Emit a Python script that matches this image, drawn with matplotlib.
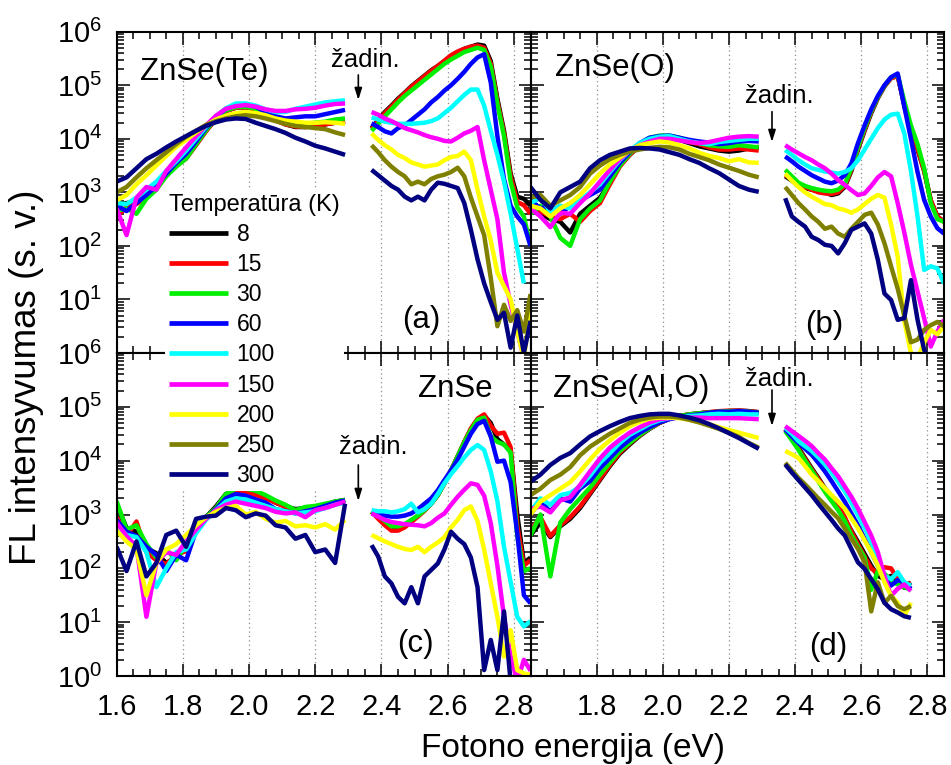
import numpy as np
import matplotlib
matplotlib.use("Agg")
import matplotlib.pyplot as plt
from matplotlib.ticker import MultipleLocator, LogLocator, NullFormatter, FuncFormatter

plt.rcParams['font.family'] = ['Liberation Sans', 'DejaVu Sans']
plt.rcParams['mathtext.fontset'] = 'custom'
plt.rcParams['mathtext.rm'] = 'Liberation Sans'

nan = np.nan

# ---- data -------------------------------------------------------------
temperatures = [8, 15, 30, 60, 100, 150, 200, 250, 300]
colors = ['#000000', '#ff0000', '#00ee00', '#0000ff', '#00ffff',
          '#ff00ff', '#ffff00', '#808000', '#000080']

excitation_ev = 2.33

# photon energy grids below and above the excitation line (eV)
energy_lo = [1.60, 1.63, 1.66, 1.69, 1.72, 1.75, 1.78, 1.81, 1.84, 1.87, 1.90, 1.93,
             1.96, 1.99, 2.02, 2.05, 2.08, 2.11, 2.14, 2.17, 2.20, 2.23, 2.26, 2.29]
energy_hi = [2.37, 2.39, 2.41, 2.43, 2.45, 2.47, 2.49, 2.51, 2.53, 2.55, 2.57, 2.59,
             2.61, 2.63, 2.65, 2.67, 2.69, 2.71, 2.73, 2.75, 2.77, 2.79, 2.81, 2.83, 2.85]

# log10 of PL intensity, one row per temperature (8 ... 300 K)
znse_te_lo = [
    [2.75, 2.80, 2.82, 2.95, 3.15, 3.36, 3.52, 3.65, 3.90, 4.15, 4.38, 4.52, 4.58, 4.59, 4.55, 4.45, 4.35, 4.27, 4.22, 4.22, 4.24, 4.27, 4.30, 4.32],
    [2.55, 2.72, 2.78, 2.92, 3.10, 3.33, 3.50, 3.63, 3.88, 4.14, 4.37, 4.52, 4.58, 4.59, 4.55, 4.44, 4.34, 4.27, 4.23, 4.22, 4.24, 4.27, 4.30, 4.32],
    [2.65, 2.70, 2.60, 2.88, 3.05, 3.30, 3.48, 3.63, 3.90, 4.16, 4.38, 4.53, 4.59, 4.60, 4.56, 4.46, 4.36, 4.30, 4.27, 4.28, 4.30, 4.32, 4.36, 4.38],
    [2.75, 2.65, 2.80, 2.95, 3.12, 3.35, 3.55, 3.72, 3.95, 4.20, 4.40, 4.56, 4.63, 4.64, 4.60, 4.50, 4.42, 4.38, 4.40, 4.42, 4.42, 4.46, 4.50, 4.54],
    [2.80, 2.78, 2.90, 3.05, 3.20, 3.40, 3.58, 3.78, 4.00, 4.22, 4.42, 4.57, 4.66, 4.66, 4.62, 4.55, 4.50, 4.50, 4.56, 4.60, 4.64, 4.68, 4.70, 4.72],
    [2.70, 2.20, 2.90, 3.10, 3.05, 3.40, 3.62, 3.84, 4.05, 4.25, 4.43, 4.56, 4.61, 4.63, 4.60, 4.55, 4.52, 4.52, 4.55, 4.56, 4.58, 4.62, 4.65, 4.66],
    [2.85, 2.95, 3.15, 3.32, 3.50, 3.68, 3.85, 3.98, 4.12, 4.25, 4.36, 4.43, 4.48, 4.50, 4.48, 4.44, 4.38, 4.34, 4.32, 4.30, 4.30, 4.31, 4.30, 4.28],
    [3.00, 3.10, 3.28, 3.45, 3.60, 3.75, 3.90, 4.04, 4.15, 4.26, 4.33, 4.38, 4.42, 4.44, 4.42, 4.38, 4.33, 4.28, 4.24, 4.22, 4.20, 4.18, 4.12, 4.07],
    [3.20, 3.28, 3.45, 3.62, 3.72, 3.84, 3.95, 4.05, 4.15, 4.24, 4.31, 4.36, 4.38, 4.37, 4.30, 4.24, 4.18, 4.11, 4.02, 3.95, 3.87, 3.82, 3.76, 3.70],
]
znse_te_hi = [
    [4.20, 4.35, 4.50, 4.62, 4.75, 4.86, 4.98, 5.08, 5.18, 5.28, 5.36, 5.45, 5.55, 5.62, 5.68, 5.72, 5.76, 5.74, 5.45, 4.75, 4.15, 3.35, 2.92, 2.88, 2.75],
    [4.18, 4.33, 4.48, 4.60, 4.73, 4.85, 4.97, 5.07, 5.17, 5.27, 5.36, 5.46, 5.56, 5.63, 5.68, 5.72, 5.74, 5.70, 5.40, 4.70, 4.10, 3.30, 2.82, 2.76, 2.60],
    [4.15, 4.28, 4.42, 4.55, 4.68, 4.80, 4.90, 5.00, 5.10, 5.20, 5.30, 5.40, 5.48, 5.55, 5.62, 5.66, 5.70, 5.66, 5.35, 4.65, 4.05, 3.20, 2.72, 2.55, 2.00],
    [4.29, 4.22, 4.14, 4.10, 4.20, 4.25, 4.35, 4.45, 4.55, 4.68, 4.78, 4.90, 5.00, 5.12, 5.25, 5.40, 5.52, 5.58, 5.05, 4.05, 3.25, 2.75, 2.55, 2.40, 2.00],
    [4.40, 4.36, 4.32, 4.30, 4.28, 4.28, 4.28, 4.29, 4.30, 4.33, 4.38, 4.48, 4.58, 4.70, 4.82, 4.92, 4.92, 4.62, 4.15, 3.70, 3.20, 2.60, 1.95, 1.30, nan],
    [4.50, 4.45, 4.38, 4.33, 4.27, 4.20, 4.16, 4.12, 4.07, 4.03, 4.00, 3.96, 3.95, 4.02, 4.10, 4.15, 4.22, 3.60, 3.05, 2.50, 1.50, 0.90, 0.40, -0.10, -0.50],
    [4.10, 3.98, 3.88, 3.80, 3.70, 3.64, 3.56, 3.52, 3.48, 3.50, 3.52, 3.60, 3.66, 3.68, 3.76, 3.60, 3.05, 2.55, 2.10, 1.50, 1.25, 1.00, 0.40, -0.10, 0.80],
    [3.88, 3.75, 3.60, 3.48, 3.38, 3.30, 3.15, 3.20, 3.15, 3.25, 3.30, 3.33, 3.38, 3.46, 3.30, 2.90, 2.55, 2.20, 1.40, 0.50, 0.90, 0.60, 0.80, 0.40, 1.10],
    [3.42, 3.32, 3.22, 3.12, 3.05, 2.92, 2.85, 2.92, 2.85, 3.05, 3.18, 3.16, 3.12, 3.08, 2.80, 2.30, 1.75, 1.30, 0.95, 0.62, 0.75, 0.10, 0.70, 0.00, 0.60],
]

znse_o_lo = [
    [2.80, 2.60, 2.50, 2.45, 2.25, 2.60, 2.75, 2.90, 3.18, 3.50, 3.70, 3.87, 3.98, 4.02, 4.02, 3.98, 3.92, 3.86, 3.82, 3.78, 3.76, 3.78, 3.82, 3.85],
    [2.70, 2.65, 2.55, 2.50, 2.60, 2.45, 2.65, 2.80, 3.15, 3.48, 3.70, 3.88, 4.00, 4.04, 4.04, 4.00, 3.94, 3.90, 3.84, 3.80, 3.80, 3.82, 3.80, 3.78],
    [2.60, 2.75, 2.55, 2.15, 2.00, 2.50, 2.70, 2.85, 3.20, 3.50, 3.72, 3.90, 4.02, 4.06, 4.06, 4.02, 3.96, 3.92, 3.88, 3.86, 3.85, 3.88, 3.86, 3.84],
    [2.85, 2.70, 2.75, 2.60, 2.75, 2.85, 2.95, 3.05, 3.30, 3.55, 3.75, 3.92, 4.02, 4.05, 4.06, 4.02, 3.98, 3.95, 3.93, 3.90, 3.92, 3.95, 3.96, 3.95],
    [2.80, 2.90, 2.65, 2.75, 2.70, 2.85, 3.00, 3.15, 3.38, 3.60, 3.78, 3.92, 4.00, 4.04, 4.05, 4.00, 3.95, 3.92, 3.90, 3.94, 3.96, 3.98, 4.00, 4.00],
    [2.70, 2.55, 2.35, 2.62, 2.60, 2.80, 2.98, 3.20, 3.42, 3.62, 3.78, 3.88, 3.95, 4.00, 4.00, 3.97, 3.94, 3.92, 3.94, 3.98, 4.02, 4.04, 4.05, 4.04],
    [2.75, 2.70, 2.55, 2.70, 2.80, 2.95, 3.15, 3.35, 3.52, 3.65, 3.78, 3.88, 3.92, 3.95, 3.93, 3.88, 3.82, 3.74, 3.68, 3.64, 3.58, 3.62, 3.56, 3.55],
    [2.90, 2.95, 2.75, 2.85, 2.95, 3.10, 3.35, 3.50, 3.62, 3.70, 3.76, 3.80, 3.83, 3.85, 3.84, 3.80, 3.72, 3.66, 3.60, 3.52, 3.46, 3.40, 3.33, 3.28],
    [3.10, 2.86, 2.70, 3.00, 3.10, 3.20, 3.45, 3.60, 3.70, 3.76, 3.82, 3.83, 3.82, 3.80, 3.75, 3.70, 3.62, 3.55, 3.45, 3.36, 3.24, 3.12, 3.05, 3.01],
]
znse_o_hi = [
    [3.30, 3.22, 3.12, 3.08, 3.05, 3.02, 3.00, 2.95, 2.98, 3.10, 3.40, 3.80, 4.15, 4.48, 4.76, 4.98, 5.14, 5.18, 4.62, 4.15, 3.80, 3.40, 2.85, 2.55, 2.45],
    [3.32, 3.25, 3.15, 3.10, 3.05, 3.00, 2.98, 2.97, 3.00, 3.12, 3.42, 3.82, 4.17, 4.50, 4.77, 4.98, 5.13, 5.17, 4.65, 4.18, 3.82, 3.40, 2.85, 2.55, 2.45],
    [3.42, 3.30, 3.18, 3.12, 3.08, 3.05, 3.03, 3.02, 3.05, 3.15, 3.45, 3.85, 4.20, 4.52, 4.78, 4.99, 5.15, 5.20, 4.70, 4.25, 3.90, 3.45, 2.80, 2.50, 2.45],
    [3.67, 3.58, 3.48, 3.40, 3.32, 3.26, 3.20, 3.17, 3.22, 3.32, 3.54, 3.92, 4.25, 4.55, 4.80, 5.00, 5.15, 5.22, 4.60, 4.00, 3.38, 2.86, 2.55, 2.33, 2.23],
    [3.79, 3.70, 3.60, 3.52, 3.45, 3.42, 3.39, 3.37, 3.35, 3.38, 3.45, 3.60, 3.80, 4.00, 4.20, 4.36, 4.45, 4.47, 4.10, 3.40, 2.55, 1.55, 1.62, 1.58, 1.30],
    [3.88, 3.80, 3.73, 3.66, 3.60, 3.52, 3.45, 3.35, 3.23, 3.14, 3.04, 2.95, 2.98, 3.12, 3.28, 3.38, 3.30, 2.80, 2.25, 1.65, 1.15, 0.65, 0.12, 0.40, 0.62],
    [3.35, 3.22, 3.10, 3.00, 2.92, 2.85, 2.78, 2.76, 2.70, 2.67, 2.62, 2.68, 2.78, 2.88, 2.95, 2.90, 2.40, 1.80, 0.60, 0.00, -0.10, 0.20, 0.43, 0.35, 0.50],
    [3.10, 2.95, 2.80, 2.68, 2.55, 2.45, 2.32, 2.36, 2.23, 2.17, 2.32, 2.45, 2.58, 2.62, 2.40, 2.05, 1.62, 1.20, 0.70, 0.20, 0.25, 0.43, 0.52, 0.58, 0.50],
    [2.89, 2.55, 2.45, 2.36, 2.17, 2.11, 2.02, 2.00, 1.86, 2.05, 2.30, 2.36, 2.42, 2.23, 1.74, 1.11, 0.99, 0.62, 0.65, 1.36, 0.62, 0.06, -0.20, -0.50, -0.50],
]

# no 250 K spectrum was recorded for undoped ZnSe
znse_lo = [
    [3.20, 2.75, 2.68, 2.38, 2.28, 2.10, 2.20, 2.40, 2.75, 2.95, 3.15, 3.38, 3.46, 3.44, 3.40, 3.32, 3.22, 3.15, 3.10, 3.12, 3.14, 3.18, 3.24, 3.27],
    [2.95, 2.60, 2.87, 2.30, 2.15, 2.08, 2.25, 2.32, 2.72, 2.93, 3.12, 3.36, 3.44, 3.42, 3.36, 3.30, 3.22, 3.14, 3.06, 3.08, 3.12, 3.16, 3.22, 3.26],
    [3.25, 2.72, 2.80, 2.45, 2.20, 2.35, 2.15, 2.45, 2.78, 2.95, 3.12, 3.38, 3.48, 3.48, 3.44, 3.36, 3.26, 3.18, 3.08, 3.14, 3.16, 3.20, 3.24, 3.27],
    [2.90, 2.68, 2.60, 2.40, 2.25, 1.95, 2.25, 2.15, 2.70, 2.92, 3.10, 3.30, 3.38, 3.35, 3.28, 3.22, 3.10, 3.06, 3.02, 3.06, 3.10, 3.16, 3.22, 3.26],
    [2.80, 2.62, 2.58, 2.30, 1.65, 2.00, 2.30, 2.35, 2.65, 2.90, 3.08, 3.24, 3.30, 3.28, 3.22, 3.16, 3.10, 3.06, 3.02, 3.04, 3.06, 3.12, 3.18, 3.22],
    [2.85, 2.60, 2.40, 1.10, 2.10, 2.30, 2.25, 2.50, 2.72, 2.92, 3.08, 3.18, 3.24, 3.20, 3.16, 3.12, 3.05, 3.02, 3.04, 2.95, 3.08, 3.12, 3.18, 3.24],
    [2.70, 2.50, 2.35, 1.50, 2.10, 2.35, 2.45, 2.62, 2.80, 2.95, 3.05, 3.12, 3.16, 3.00, 3.05, 2.92, 2.85, 2.88, 2.78, 2.80, 2.76, 2.82, 2.72, 2.90],
    None,
    [2.40, 1.95, 2.50, 1.85, 2.10, 2.62, 2.70, 2.40, 2.92, 2.96, 2.98, 3.12, 3.08, 2.95, 3.02, 2.98, 2.80, 2.76, 2.55, 2.62, 2.30, 2.35, 2.10, 3.20],
]
znse_hi = [
    [3.05, 2.95, 2.84, 2.72, 2.72, 2.78, 2.88, 2.98, 3.08, 3.20, 3.36, 3.58, 3.82, 4.08, 4.34, 4.58, 4.76, 4.84, 4.70, 4.40, 4.30, 4.20, 3.00, 2.10, 2.20],
    [3.05, 2.92, 2.80, 2.70, 2.70, 2.76, 2.86, 2.96, 3.07, 3.20, 3.36, 3.58, 3.82, 4.08, 4.35, 4.60, 4.78, 4.86, 4.65, 4.50, 4.52, 4.25, 2.80, 2.05, 2.15],
    [3.05, 2.98, 2.88, 2.78, 2.78, 2.82, 2.90, 2.98, 3.08, 3.20, 3.36, 3.58, 3.82, 4.08, 4.34, 4.57, 4.76, 4.80, 4.45, 4.35, 4.30, 4.15, 2.60, 1.95, 2.00],
    [3.02, 3.00, 2.98, 2.96, 2.96, 2.98, 3.02, 3.10, 3.20, 3.30, 3.45, 3.64, 3.82, 4.02, 4.26, 4.50, 4.68, 4.74, 4.45, 3.98, 4.00, 3.60, 2.65, 1.50, 1.35],
    [3.08, 3.06, 3.06, 3.04, 3.06, 3.10, 3.20, 3.04, 3.10, 3.20, 3.38, 3.58, 3.75, 3.90, 4.06, 4.20, 4.29, 4.20, 3.80, 3.25, 2.40, 1.75, 1.10, 0.92, 1.02],
    [3.02, 2.96, 2.90, 2.86, 2.84, 2.82, 2.81, 2.80, 2.78, 2.84, 2.94, 3.02, 3.18, 3.33, 3.46, 3.58, 3.55, 3.35, 2.84, 2.05, 1.10, 0.36, -0.10, 0.30, 0.10],
    [2.62, 2.56, 2.50, 2.45, 2.40, 2.36, 2.34, 2.40, 2.30, 2.40, 2.48, 2.58, 2.76, 2.90, 3.08, 3.15, 2.88, 2.35, 1.72, 1.10, 0.36, 0.85, 0.11, 0.05, 0.02],
    None,
    [2.43, 2.22, 1.85, 1.72, 1.47, 1.35, 1.65, 1.35, 1.85, 1.97, 2.09, 2.35, 2.68, 2.55, 2.45, 2.20, 1.65, 0.11, 0.67, 0.11, 1.20, -0.10, -0.50, -0.50, -0.50],
]

znse_alo_lo = [
    [2.61, 2.85, 2.58, 2.78, 2.92, 3.12, 3.38, 3.64, 3.90, 4.13, 4.30, 4.46, 4.59, 4.70, 4.78, 4.83, 4.86, 4.88, 4.90, 4.91, 4.92, 4.93, 4.92, 4.90],
    [2.70, 2.95, 2.60, 2.80, 2.95, 3.15, 3.40, 3.66, 3.92, 4.15, 4.32, 4.47, 4.60, 4.70, 4.78, 4.83, 4.86, 4.88, 4.90, 4.92, 4.93, 4.93, 4.92, 4.90],
    [2.61, 3.00, 1.85, 2.85, 3.10, 3.30, 3.50, 3.74, 3.96, 4.18, 4.33, 4.48, 4.60, 4.71, 4.79, 4.83, 4.86, 4.88, 4.89, 4.91, 4.92, 4.92, 4.91, 4.89],
    [3.00, 3.25, 3.05, 3.30, 3.24, 3.48, 3.62, 3.86, 4.05, 4.24, 4.39, 4.52, 4.62, 4.71, 4.77, 4.81, 4.84, 4.86, 4.89, 4.91, 4.91, 4.92, 4.91, 4.89],
    [3.05, 3.30, 3.18, 3.36, 3.40, 3.52, 3.72, 3.96, 4.14, 4.33, 4.48, 4.58, 4.68, 4.75, 4.79, 4.81, 4.83, 4.84, 4.86, 4.87, 4.86, 4.87, 4.86, 4.86],
    [3.10, 3.15, 3.04, 3.26, 3.32, 3.55, 3.80, 4.04, 4.24, 4.39, 4.52, 4.62, 4.71, 4.77, 4.79, 4.80, 4.80, 4.80, 4.79, 4.79, 4.79, 4.79, 4.78, 4.77],
    [3.00, 3.24, 3.36, 3.48, 3.60, 3.80, 4.02, 4.22, 4.38, 4.52, 4.64, 4.72, 4.78, 4.80, 4.80, 4.79, 4.76, 4.72, 4.68, 4.62, 4.57, 4.52, 4.47, 4.42],
    [3.36, 3.48, 3.64, 3.74, 3.88, 4.10, 4.26, 4.38, 4.50, 4.60, 4.70, 4.76, 4.80, 4.82, 4.82, 4.80, 4.76, 4.71, 4.65, 4.59, 4.52, 4.44, 4.33, 4.24],
    [3.61, 3.74, 3.92, 4.05, 4.14, 4.30, 4.45, 4.55, 4.64, 4.72, 4.79, 4.83, 4.86, 4.87, 4.87, 4.84, 4.80, 4.75, 4.68, 4.60, 4.51, 4.42, 4.32, 4.22],
]
# measured up to 2.75 eV only
znse_alo_hi = [
    [4.58, 4.42, 4.24, 4.05, 3.86, 3.68, 3.49, 3.33, 3.18, 2.93, 2.70, 2.49, 2.27, 2.05, 1.86, 1.80, 1.86, 1.74, 1.64, 1.74],
    [4.58, 4.40, 4.22, 4.03, 3.84, 3.66, 3.47, 3.30, 3.15, 2.95, 2.68, 2.45, 2.22, 2.00, 1.90, 2.02, 2.00, 1.80, 1.70, 1.72],
    [4.55, 4.38, 4.20, 4.00, 3.82, 3.62, 3.42, 3.25, 3.08, 2.88, 2.62, 2.40, 2.20, 1.60, 1.95, 1.90, 1.78, 1.70, 1.65, 1.60],
    [4.58, 4.45, 4.33, 4.22, 4.11, 3.96, 3.80, 3.62, 3.43, 3.24, 3.02, 2.80, 2.55, 2.30, 2.05, 1.80, 1.68, 1.78, 1.74, 1.62],
    [4.61, 4.50, 4.36, 4.27, 4.18, 4.06, 3.93, 3.78, 3.61, 3.43, 3.22, 2.99, 2.75, 2.49, 2.18, 1.86, 1.80, 1.93, 1.74, 1.68],
    [4.64, 4.55, 4.46, 4.37, 4.27, 4.14, 4.02, 3.86, 3.71, 3.52, 3.33, 3.11, 2.86, 2.61, 2.30, 1.86, 1.49, 1.62, 1.70, 1.58],
    [4.18, 4.12, 4.05, 3.90, 3.74, 3.62, 3.49, 3.36, 3.24, 3.11, 2.93, 2.74, 2.52, 2.30, 2.05, 1.74, 1.49, 1.36, 1.11, 1.36],
    [3.96, 3.82, 3.68, 3.56, 3.43, 3.30, 3.18, 3.05, 2.93, 2.74, 2.55, 2.36, 2.11, 1.20, 1.74, 1.36, 1.49, 1.30, 1.24, 1.30],
    [3.93, 3.78, 3.64, 3.50, 3.36, 3.20, 3.05, 2.90, 2.74, 2.61, 2.36, 2.11, 1.99, 1.80, 1.61, 1.36, 1.24, 1.18, 1.11, 1.08],
]

# ---- figure layout (pixel geometry of the 2x2 grid) ---------------------
W, H = 951, 765
fig = plt.figure(figsize=(W / 100, H / 100), dpi=100)

xL, xM, xR = 116.6, 530.5, 944.0
yT, yM, yB = 31.7, 353.0, 676.0


def add_axes_px(x0, y0, x1, y1):
    return fig.add_axes([x0 / W, 1 - y1 / H, (x1 - x0) / W, (y1 - y0) / H])


ax_a = add_axes_px(xL, yT, xM, yM)
ax_b = add_axes_px(xM, yT, xR, yM)
ax_c = add_axes_px(xL, yM, xM, yB)
ax_d = add_axes_px(xM, yM, xR, yB)

LW = 3.2
TICK_FS = 21


def sci_label(v, pos):
    e = int(round(np.log10(v)))
    return r'$\mathdefault{10^{%d}}$' % e


def style_axis(ax, show_x, show_y, hide_first_y=False, hide_first_x=False):
    ax.set_xlim(1.6, 2.85)
    ax.set_yscale('log')
    ax.set_ylim(1, 1e6)
    ax.xaxis.set_major_locator(MultipleLocator(0.2))
    ax.xaxis.set_minor_locator(MultipleLocator(0.05))
    ax.yaxis.set_major_locator(LogLocator(base=10, numticks=10))
    ax.yaxis.set_minor_locator(LogLocator(base=10, subs=np.arange(2, 10), numticks=20))
    ax.yaxis.set_minor_formatter(NullFormatter())

    def yfmt(v, pos):
        if hide_first_y and abs(v - 1) < 1e-9:
            return ''
        return sci_label(v, pos)

    def xfmt(v, pos):
        if hide_first_x and abs(v - 1.6) < 1e-6:
            return ''
        return '%.1f' % v

    ax.yaxis.set_major_formatter(FuncFormatter(yfmt))
    ax.xaxis.set_major_formatter(FuncFormatter(xfmt))
    ax.tick_params(which='both', direction='in', top=True, right=True,
                   labelsize=TICK_FS, width=1.1, colors='black')
    ax.tick_params(which='major', length=9)
    ax.tick_params(which='minor', length=5)
    ax.tick_params(axis='y', pad=10.5)
    ax.tick_params(axis='x', pad=12)
    ax.tick_params(labelbottom=show_x, labelleft=show_y)
    ax.grid(axis='x', which='major', color='#8c8c8c', linestyle=(0, (1, 2.5)), lw=0.9)
    for sp in ax.spines.values():
        sp.set_linewidth(1.5)
        sp.set_zorder(5)


style_axis(ax_a, show_x=False, show_y=True, hide_first_y=True)
style_axis(ax_b, show_x=False, show_y=False)
style_axis(ax_c, show_x=True, show_y=True)
style_axis(ax_d, show_x=True, show_y=False, hide_first_x=True)

panels = [
    (ax_a, znse_te_lo, znse_te_hi),
    (ax_b, znse_o_lo, znse_o_hi),
    (ax_c, znse_lo, znse_hi),
    (ax_d, znse_alo_lo, znse_alo_hi),
]

legend_handles = []
for ax, lo, hi in panels:
    for k, col in enumerate(colors):
        if lo[k] is None:
            continue
        ln, = ax.plot(energy_lo[:len(lo[k])], 10 ** np.asarray(lo[k]), color=col, lw=LW,
                      solid_joinstyle='round', solid_capstyle='butt', zorder=2)
        ax.plot(energy_hi[:len(hi[k])], 10 ** np.asarray(hi[k]), color=col, lw=LW,
                solid_joinstyle='round', solid_capstyle='butt', zorder=2)
        if ax is ax_a:
            legend_handles.append(ln)


# ---- annotations ------------------------------------------------------
def fig_text(x, y, s, **kw):
    kw.setdefault('zorder', 12)
    fig.text(x / W, 1 - y / H, s, **kw)


NAME_FS = 22.5
fig_text(140, 80, 'ZnSe(Te)', fontsize=NAME_FS, ha='left', va='baseline')
fig_text(555, 76, 'ZnSe(O)', fontsize=NAME_FS, ha='left', va='baseline')
fig_text(418, 396.7, 'ZnSe', fontsize=NAME_FS, ha='left', va='baseline')
fig_text(553, 396.7, 'ZnSe(Al,O)', fontsize=NAME_FS, ha='left', va='baseline')

fig_text(421, 328.3, '(a)', fontsize=NAME_FS, ha='center', va='baseline')
fig_text(824, 333.3, '(b)', fontsize=NAME_FS, ha='center', va='baseline')
fig_text(415, 651.7, '(c)', fontsize=NAME_FS, ha='center', va='baseline')
fig_text(828, 655, '(d)', fontsize=NAME_FS, ha='center', va='baseline')

EXC_FS = 18.5
# (axes, text centre x px, text baseline y px, arrow tail y px, arrow head y px)
excitation_marks = [
    (ax_a, 365, 66.7, 75, 100),
    (ax_b, 779, 103.3, 111.7, 142),
    (ax_c, 373, 454, 465, 501),
    (ax_d, 779, 386, 390, 426),
]
for ax, tx, ty, y0, y1 in excitation_marks:
    fig_text(tx, ty, 'žadin.', fontsize=EXC_FS, ha='center', va='baseline')
    ax.annotate('', xy=(excitation_ev, H - y1), xytext=(excitation_ev, H - y0),
                xycoords=('data', 'figure pixels'), textcoords=('data', 'figure pixels'),
                arrowprops=dict(arrowstyle='-|>,head_length=0.7,head_width=0.22',
                                color='black', lw=1.2, shrinkA=0, shrinkB=0),
                annotation_clip=False)

# opaque legend spanning both left panels
leg = fig.legend(legend_handles, [str(t) for t in temperatures],
                 title='Temperatūra (K)', loc='upper left',
                 bbox_to_anchor=(165 / W, 1 - 190 / H), bbox_transform=fig.transFigure,
                 frameon=True, fancybox=False, facecolor='white', edgecolor='none',
                 framealpha=1.0, fontsize=16.5, title_fontsize=17,
                 handlelength=2.6, handletextpad=0.35, labelspacing=0.31,
                 borderpad=0.17, borderaxespad=0, alignment='left')
leg.set_zorder(10)
for lh in leg.get_lines():
    lh.set_linewidth(3.4)

fig_text(27, 377, 'FL intensyvumas (s. v.)', fontsize=26.5, rotation=90,
         ha='center', va='center')
fig_text(573, 757, 'Fotono energija (eV)', fontsize=24, ha='center', va='baseline')

fig.savefig('out.png', dpi=100)
